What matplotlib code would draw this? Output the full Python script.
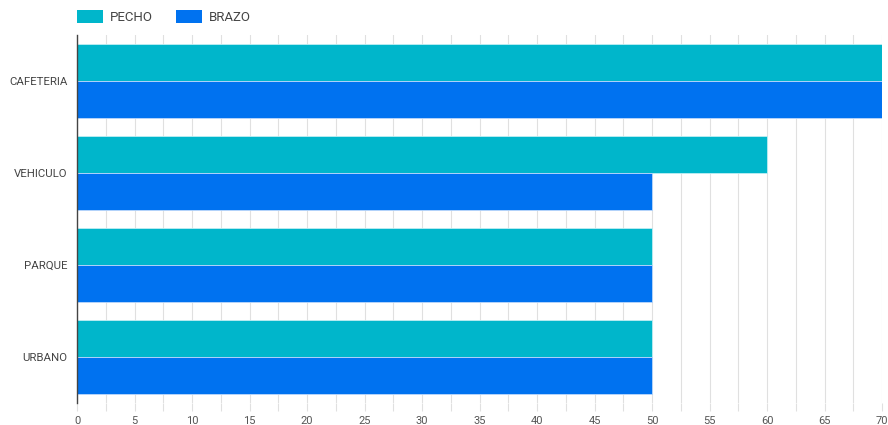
import numpy as np
import matplotlib
matplotlib.use('agg')
import matplotlib.pyplot as plt
from matplotlib.patches import Patch
from matplotlib import ticker

categories = ['CAFETERIA', 'VEHICULO', 'PARQUE', 'URBANO']
pecho = [70, 60, 50, 50]
brazo = [70, 50, 50, 50]
series_names = ['PECHO', 'BRAZO']
colors = ['#00b6cb', '#0072f0']

plt.rcParams['font.family'] = ['Roboto', 'DejaVu Sans']

fig = plt.figure(figsize=(8.88, 4.25), dpi=100)
ax = fig.add_axes([77 / 888, 1 - 403 / 425, (882 - 77) / 888, (403 - 35) / 425])

y = np.arange(len(categories))
h = 0.4
ax.barh(y - h / 2, pecho, height=h, color=colors[0], edgecolor='#bfeef3', linewidth=0.6, zorder=3)
ax.barh(y + h / 2, brazo, height=h, color=colors[1], edgecolor='#bcd8fb', linewidth=0.6, zorder=3)

ax.set_ylim(len(categories) - 0.5, -0.5)
ax.set_xlim(0, 70)
ax.set_yticks(y)
ax.set_yticklabels(categories, fontsize=8.2, color='#444444')
ax.tick_params(axis='y', length=0, pad=7)

ax.xaxis.set_major_locator(ticker.MultipleLocator(5))
ax.xaxis.set_minor_locator(ticker.MultipleLocator(2.5))
ax.tick_params(axis='x', which='both', length=6, color='#e0e0e0', width=0.8,
               labelsize=8, labelcolor='#555555', pad=3)
ax.grid(axis='x', which='both', color='#e0e0e0', linewidth=0.8, zorder=0)
ax.set_axisbelow(True)

for s in ['top', 'right', 'bottom']:
    ax.spines[s].set_visible(False)
ax.spines['left'].set_color('#444444')
ax.spines['left'].set_linewidth(1.0)
ax.spines['left'].set_zorder(4)

handles = [Patch(facecolor=c, edgecolor='none') for c in colors]
fig.legend(handles, series_names, loc='upper left', bbox_to_anchor=(65 / 888, 1.005),
           ncol=2, frameon=False, fontsize=9.5, handlelength=1.97, handleheight=1.14,
           columnspacing=1.75, handletextpad=0.53, labelcolor='#444444')

fig.savefig('out.png', dpi=100)
